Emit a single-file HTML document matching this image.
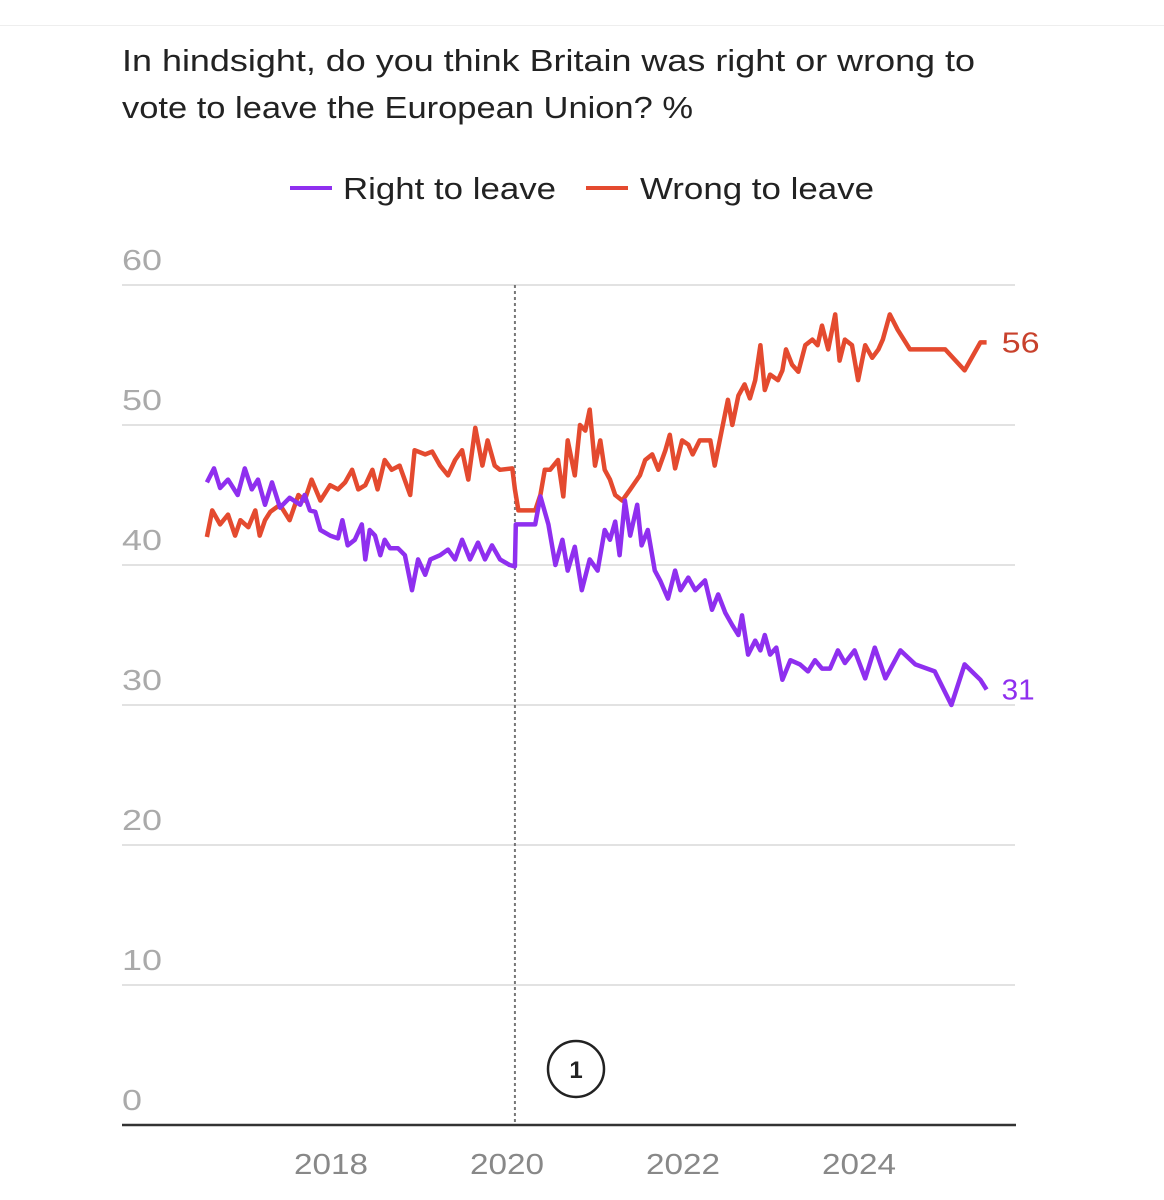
<!DOCTYPE html>
<html><head><meta charset="utf-8">
<style>
html,body{margin:0;padding:0;background:#fff;}
body{width:1164px;height:1200px;position:relative;overflow:hidden;font-family:"Liberation Sans",sans-serif;}
</style></head>
<body>
<div style="position:absolute;left:0;top:25px;width:1164px;height:1px;background:#eee"></div>
<svg id="chart" width="1164" height="1200" style="position:absolute;left:0;top:0">
<text x="122" y="71" font-size="31" fill="#222" textLength="853" lengthAdjust="spacingAndGlyphs">In hindsight, do you think Britain was right or wrong to</text>
<text x="122" y="118" font-size="31" fill="#222" textLength="571" lengthAdjust="spacingAndGlyphs">vote to leave the European Union? %</text>
<g>
<line x1="290" y1="188" x2="332" y2="188" stroke="#8f2fef" stroke-width="4"/>
<text x="343" y="199" font-size="31" fill="#222" textLength="213" lengthAdjust="spacingAndGlyphs">Right to leave</text>
<line x1="586" y1="188" x2="628" y2="188" stroke="#e44a2f" stroke-width="4"/>
<text x="640" y="199" font-size="31" fill="#222" textLength="234" lengthAdjust="spacingAndGlyphs">Wrong to leave</text>
</g>
<g id="grid"></g>
<g id="series"></g>
</svg>
<script>
const yTicks=[0,10,20,30,40,50,60];
const xTicks=[2018,2020,2022,2024];
const rightDates=[2016.59,2016.67,2016.74,2016.83,2016.94,2017.02,2017.10,2017.17,2017.25,2017.33,2017.42,2017.53,2017.65,2017.70,2017.76,2017.82,2017.88,2017.99,2018.08,2018.13,2018.19,2018.27,2018.35,2018.39,2018.44,2018.50,2018.56,2018.61,2018.67,2018.76,2018.84,2018.92,2018.99,2019.07,2019.13,2019.24,2019.33,2019.41,2019.49,2019.58,2019.67,2019.75,2019.83,2019.92,2020.03,2020.09,2020.10,2020.32,2020.38,2020.47,2020.55,2020.63,2020.69,2020.77,2020.85,2020.94,2021.03,2021.11,2021.17,2021.23,2021.28,2021.34,2021.40,2021.48,2021.53,2021.60,2021.68,2021.74,2021.83,2021.91,2021.97,2022.06,2022.14,2022.25,2022.33,2022.40,2022.48,2022.56,2022.63,2022.67,2022.74,2022.82,2022.88,2022.93,2022.99,2023.06,2023.13,2023.22,2023.33,2023.42,2023.50,2023.58,2023.67,2023.76,2023.84,2023.95,2024.07,2024.18,2024.30,2024.47,2024.64,2024.86,2025.05,2025.20,2025.38,2025.45];
const rightValues=[45.9,46.9,45.5,46.1,45.0,46.9,45.4,46.1,44.3,45.9,44.1,44.8,44.3,45.0,43.9,43.8,42.5,42.1,41.9,43.2,41.4,41.8,42.9,40.4,42.5,42.1,40.7,41.8,41.2,41.2,40.7,38.2,40.4,39.3,40.4,40.7,41.1,40.4,41.8,40.4,41.6,40.4,41.4,40.4,40.0,39.9,42.9,42.9,44.9,42.9,40.0,41.8,39.6,41.3,38.2,40.4,39.6,42.5,41.8,43.1,40.7,44.6,42.1,44.3,41.4,42.5,39.6,38.9,37.6,39.6,38.2,39.1,38.2,38.9,36.8,37.9,36.6,35.7,35.0,36.4,33.6,34.6,33.9,35.0,33.6,34.1,31.8,33.2,32.9,32.4,33.2,32.6,32.6,33.9,33.0,33.9,31.9,34.1,31.9,33.9,32.9,32.4,30.0,32.9,31.8,31.1];
const wrongDates=[2016.59,2016.65,2016.74,2016.83,2016.91,2016.97,2017.06,2017.14,2017.19,2017.25,2017.31,2017.42,2017.53,2017.63,2017.70,2017.78,2017.88,2017.99,2018.08,2018.16,2018.24,2018.31,2018.39,2018.47,2018.53,2018.61,2018.69,2018.78,2018.90,2018.95,2019.07,2019.15,2019.24,2019.33,2019.41,2019.49,2019.56,2019.64,2019.72,2019.78,2019.86,2019.92,2020.06,2020.09,2020.13,2020.24,2020.32,2020.38,2020.43,2020.49,2020.58,2020.64,2020.69,2020.77,2020.83,2020.89,2020.94,2021.00,2021.06,2021.11,2021.17,2021.23,2021.31,2021.40,2021.51,2021.57,2021.65,2021.72,2021.80,2021.85,2021.91,2021.99,2022.06,2022.11,2022.19,2022.31,2022.36,2022.44,2022.51,2022.56,2022.63,2022.70,2022.76,2022.82,2022.88,2022.93,2022.99,2023.08,2023.13,2023.17,2023.24,2023.31,2023.39,2023.47,2023.53,2023.58,2023.65,2023.73,2023.78,2023.84,2023.92,2023.99,2024.07,2024.15,2024.22,2024.27,2024.35,2024.44,2024.58,2024.98,2025.20,2025.38,2025.45];
const wrongValues=[42.0,43.9,42.9,43.6,42.1,43.2,42.7,43.9,42.1,43.2,43.8,44.3,43.2,45.0,44.6,46.1,44.6,45.7,45.4,45.9,46.8,45.4,45.7,46.8,45.4,47.5,46.8,47.1,45.0,48.2,47.9,48.1,47.1,46.4,47.5,48.2,46.1,49.8,47.1,48.9,47.1,46.8,46.9,45.4,43.9,43.9,43.9,45.0,46.8,46.8,47.5,44.9,48.9,46.4,50.0,49.6,51.1,47.1,48.9,46.8,46.1,45.0,44.6,45.4,46.4,47.5,47.9,46.8,48.2,49.3,46.9,48.9,48.6,47.9,48.9,48.9,47.1,49.6,51.8,50.0,52.1,52.9,51.9,53.2,55.7,52.5,53.6,53.2,53.9,55.4,54.3,53.8,55.7,56.1,55.7,57.1,55.4,57.9,54.6,56.1,55.7,53.2,55.7,54.8,55.4,56.1,57.9,56.8,55.4,55.4,53.9,55.9,55.9];
const endLabels=["56","31"];
const brexitDate=2020.09;

const NS="http://www.w3.org/2000/svg";
const xS=d=>331+(d-2018)*88;
const yS=v=>1125-v*14;
function mk(tag,attrs,parent,txt){const e=document.createElementNS(NS,tag);for(const k in attrs)e.setAttribute(k,attrs[k]);if(txt!==undefined)e.textContent=txt;parent.appendChild(e);return e;}
const grid=document.getElementById('grid');
const ser=document.getElementById('series');
yTicks.forEach(t=>{
  if(t>0){const l=mk('line',{x1:122,x2:1015,y1:yS(t),y2:yS(t),stroke:'#e2e2e2','stroke-width':2},grid);
  
  }
  const s=String(t);
  const tx=mk('text',{x:122,y:yS(t)-15,'font-size':29,fill:'#aaa',textLength:s.length*20,lengthAdjust:'spacingAndGlyphs'},grid,s);
  
  
});
xTicks.forEach(t=>{
  const tx=mk('text',{x:xS(t),y:1174,'font-size':29,fill:'#888','text-anchor':'middle',textLength:74,lengthAdjust:'spacingAndGlyphs'},grid,String(t));
  
  
});
const dl=mk('line',{x1:xS(brexitDate),x2:xS(brexitDate),y1:yS(60),y2:yS(0),stroke:'#777','stroke-width':2,'stroke-dasharray':'3,3'},grid);


const base=mk('line',{x1:122,x2:1016,y1:yS(0),y2:yS(0),stroke:'#333','stroke-width':2.5},grid);


const circ=mk('circle',{cx:576,cy:1069,r:28,fill:'#fff',stroke:'#222','stroke-width':2.5},grid);


const ct=mk('text',{x:576,y:1078,'font-size':24,'font-weight':'bold','text-anchor':'middle',fill:'#222'},grid,'1');


function line(d,v,color,name){
  const pts=d.map((x,i)=>xS(x).toFixed(1)+','+yS(v[i]).toFixed(1)).join(' ');
  const p=mk('polyline',{points:pts,fill:'none',stroke:color,'stroke-width':4.5,'stroke-linejoin':'round'},ser);
  
  
}
line(wrongDates,wrongValues,'#e44a2f','series-wrong-to-leave');
line(rightDates,rightValues,'#8f2fef','series-right-to-leave');
const w=mk('text',{x:xS(wrongDates[wrongDates.length-1])+15,y:yS(wrongValues[wrongValues.length-1])+10,'font-size':29,fill:'#c8412c',textLength:38,lengthAdjust:'spacingAndGlyphs'},ser,endLabels[0]);


const r=mk('text',{x:xS(rightDates[rightDates.length-1])+15,y:yS(rightValues[rightValues.length-1])+10,'font-size':29,fill:'#8f2fef',textLength:33,lengthAdjust:'spacingAndGlyphs'},ser,endLabels[1]);


</script>
</body></html>
